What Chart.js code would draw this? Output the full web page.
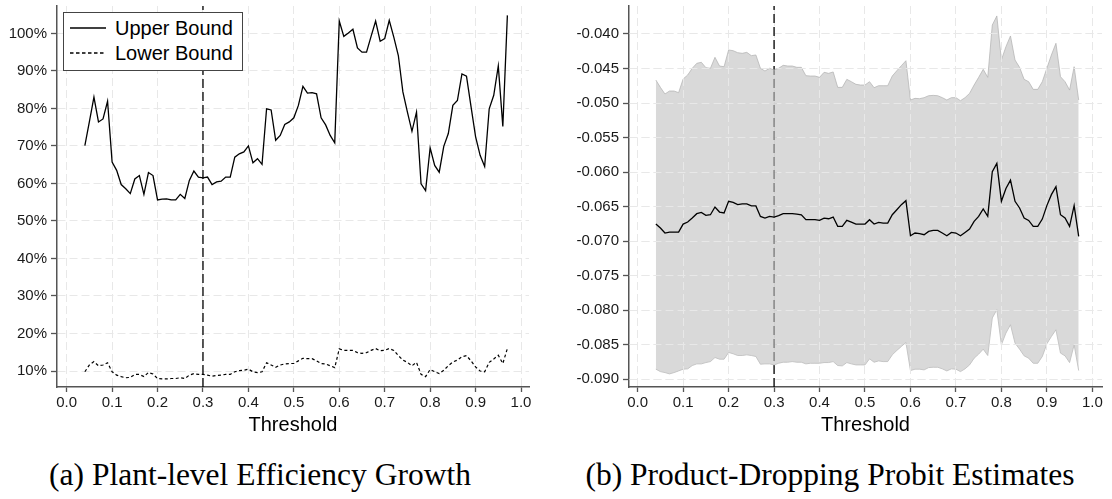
<!DOCTYPE html>
<html lang="en">
<head>
<meta charset="UTF-8" />
<title>Threshold robustness</title>
<script src="https://cdn.jsdelivr.net/npm/chart.js@4"></script>
<style>
  body { margin: 0; background: #fff; }
  .wrap { position: relative; width: 1112px; height: 499px; overflow: hidden; }
  canvas { position: absolute; top: 0; }
  #chartA { left: 0; }
  #chartB { left: 556px; }
  .legend { position: absolute; left: 63px; top: 12px; width: 180px; height: 59px; box-sizing: border-box;
            border: 1.5px solid #444; background: #fff; font: 20px 'Liberation Sans', Arial, sans-serif; color: #000; }
  .legend svg { position: absolute; left: 6px; }
  .legend span { position: absolute; left: 51px; white-space: nowrap; line-height: 24px; }
  .caption { position: absolute; top: 459px; font: 31.5px/1 'Liberation Serif', 'Times New Roman', serif;
             white-space: nowrap; transform: translateX(-50%); color: #000; }
</style>
</head>
<body>
<div class="wrap">
  <canvas id="chartA" width="556" height="440"></canvas>
  <canvas id="chartB" width="556" height="440"></canvas>
  <div class="legend">
    <svg width="36" height="4" style="top:13px"><line x1="0" y1="2" x2="36" y2="2" stroke="#000" stroke-width="1.4"/></svg>
    <span style="top:3px">Upper Bound</span>
    <svg width="36" height="4" style="top:38px"><line x1="0" y1="2" x2="36" y2="2" stroke="#000" stroke-width="1.3" stroke-dasharray="3.5 2.5"/></svg>
    <span style="top:28px">Lower Bound</span>
  </div>
  <div class="caption" style="left:260px">(a) Plant-level Efficiency Growth</div>
  <div class="caption" style="left:830px">(b) Product-Dropping Probit Estimates</div>
</div>

<script>
  // thresholds on the x axis
  const thresholds = [0.04, 0.05, 0.06, 0.07, 0.08, 0.09, 0.10, 0.11, 0.12, 0.13,
    0.14, 0.15, 0.16, 0.17, 0.18, 0.19, 0.20, 0.21, 0.22, 0.23,
    0.24, 0.25, 0.26, 0.27, 0.28, 0.29, 0.30, 0.31, 0.32, 0.33,
    0.34, 0.35, 0.36, 0.37, 0.38, 0.39, 0.40, 0.41, 0.42, 0.43,
    0.44, 0.45, 0.46, 0.47, 0.48, 0.49, 0.50, 0.51, 0.52, 0.53,
    0.54, 0.55, 0.56, 0.57, 0.58, 0.59, 0.60, 0.61, 0.62, 0.63,
    0.64, 0.65, 0.66, 0.67, 0.68, 0.69, 0.70, 0.71, 0.72, 0.73,
    0.74, 0.75, 0.76, 0.77, 0.78, 0.79, 0.80, 0.81, 0.82, 0.83,
    0.84, 0.85, 0.86, 0.87, 0.88, 0.89, 0.90, 0.91, 0.92, 0.93,
    0.94, 0.95, 0.96, 0.97];

  // (a) efficiency growth bounds, in %
  const upperBound = [70.1, 76.5, 83.0, 76.4, 77.2, 81.9, 65.7, 63.5, 59.7, 58.6,
    57.3, 61.2, 62.1, 57.1, 62.9, 62.1, 55.6, 55.8, 55.9, 55.6,
    55.6, 57.1, 56.0, 60.8, 63.3, 61.7, 61.5, 61.7, 59.7, 60.4,
    60.6, 61.7, 61.7, 67.0, 67.9, 68.4, 70.0, 65.5, 66.6, 65.1,
    79.9, 79.6, 71.5, 72.8, 75.7, 76.4, 77.5, 80.8, 85.9, 84.1,
    84.2, 83.9, 77.5, 75.6, 72.8, 70.8, 103.3, 99.2, 100.1, 101.1,
    96.1, 95.0, 95.0, 99.2, 103.3, 97.9, 98.6, 103.5, 99.0, 94.1,
    84.4, 79.0, 73.9, 79.0, 59.9, 58.1, 69.5, 64.8, 63.0, 69.9,
    73.3, 80.8, 82.1, 89.2, 88.6, 80.5, 72.5, 67.5, 64.5, 79.9,
    83.5, 91.3, 75.2, 104.8];
  const lowerBound = [9.8, 11.6, 12.5, 11.4, 11.6, 12.2, 9.8, 8.9, 8.5, 8.2,
    8.3, 9.1, 9.1, 8.5, 9.6, 9.2, 8.0, 7.9, 7.9, 8.0,
    8.0, 8.2, 8.0, 8.9, 9.3, 9.1, 9.1, 8.9, 8.6, 8.8,
    8.9, 9.1, 9.1, 9.8, 10.1, 10.2, 10.5, 9.8, 9.6, 9.8,
    12.2, 11.6, 11.0, 11.6, 11.9, 12.0, 12.0, 12.7, 13.4, 13.3,
    13.3, 12.7, 12.0, 11.9, 11.4, 10.9, 15.9, 15.5, 15.5, 15.5,
    14.9, 14.7, 14.9, 15.5, 16.0, 15.4, 15.5, 16.0, 15.5, 14.1,
    12.9, 12.3, 11.4, 12.3, 9.1, 8.5, 10.4, 9.8, 9.3, 10.2,
    11.4, 12.4, 12.9, 13.8, 14.1, 12.7, 11.1, 10.0, 9.8, 12.3,
    13.2, 14.2, 12.0, 16.0];

  // (b) probit estimate and confidence band
  const probitEst = [-0.06752, -0.06810, -0.06882, -0.06868, -0.06868, -0.06868, -0.06752, -0.06723, -0.06665, -0.06602,
    -0.06583, -0.06626, -0.06617, -0.06505, -0.06578, -0.06592, -0.06423, -0.06437, -0.06471, -0.06461,
    -0.06461, -0.06490, -0.06490, -0.06641, -0.06665, -0.06641, -0.06651, -0.06631, -0.06602, -0.06602,
    -0.06602, -0.06607, -0.06617, -0.06689, -0.06689, -0.06689, -0.06699, -0.06665, -0.06675, -0.06651,
    -0.06786, -0.06786, -0.06699, -0.06723, -0.06752, -0.06752, -0.06752, -0.06689, -0.06752, -0.06728,
    -0.06738, -0.06738, -0.06617, -0.06544, -0.06471, -0.06413, -0.06921, -0.06882, -0.06892, -0.06906,
    -0.06858, -0.06843, -0.06843, -0.06882, -0.06921, -0.06873, -0.06882, -0.06921, -0.06873, -0.06824,
    -0.06713, -0.06641, -0.06534, -0.06641, -0.05995, -0.05874, -0.06423, -0.06236, -0.06116, -0.06423,
    -0.06519, -0.06665, -0.06699, -0.06786, -0.06786, -0.06680, -0.06485, -0.06326, -0.06212, -0.06617,
    -0.06665, -0.06786, -0.06485, -0.06931];
  const probitHi = [-0.04667, -0.04773, -0.04869, -0.04826, -0.04826, -0.04850, -0.04652, -0.04594, -0.04497, -0.04425,
    -0.04410, -0.04488, -0.04497, -0.04338, -0.04464, -0.04474, -0.04232, -0.04242, -0.04271, -0.04280,
    -0.04266, -0.04314, -0.04304, -0.04497, -0.04536, -0.04497, -0.04522, -0.04497, -0.04454, -0.04464,
    -0.04464, -0.04483, -0.04483, -0.04604, -0.04609, -0.04609, -0.04628, -0.04555, -0.04570, -0.04550,
    -0.04773, -0.04773, -0.04657, -0.04691, -0.04729, -0.04739, -0.04739, -0.04691, -0.04778, -0.04749,
    -0.04749, -0.04749, -0.04609, -0.04532, -0.04459, -0.04387, -0.04956, -0.04932, -0.04937, -0.04922,
    -0.04894, -0.04889, -0.04894, -0.04922, -0.04956, -0.04922, -0.04922, -0.04966, -0.04922, -0.04860,
    -0.04739, -0.04628, -0.04512, -0.04628, -0.03870, -0.03739, -0.04377, -0.04184, -0.04029, -0.04377,
    -0.04483, -0.04657, -0.04691, -0.04802, -0.04802, -0.04691, -0.04497, -0.04304, -0.04135, -0.04619,
    -0.04691, -0.04812, -0.04474, -0.04956];
  const probitLo = [-0.08853, -0.08888, -0.08902, -0.08921, -0.08902, -0.08878, -0.08853, -0.08848, -0.08800, -0.08776,
    -0.08776, -0.08757, -0.08743, -0.08684, -0.08708, -0.08708, -0.08611, -0.08630, -0.08655, -0.08655,
    -0.08645, -0.08655, -0.08669, -0.08781, -0.08776, -0.08776, -0.08791, -0.08767, -0.08752, -0.08752,
    -0.08743, -0.08752, -0.08752, -0.08776, -0.08767, -0.08767, -0.08767, -0.08757, -0.08757, -0.08743,
    -0.08800, -0.08805, -0.08757, -0.08776, -0.08791, -0.08791, -0.08791, -0.08703, -0.08752, -0.08733,
    -0.08743, -0.08743, -0.08645, -0.08582, -0.08524, -0.08466, -0.08873, -0.08853, -0.08853, -0.08863,
    -0.08830, -0.08825, -0.08825, -0.08848, -0.08878, -0.08848, -0.08853, -0.08888, -0.08848, -0.08791,
    -0.08694, -0.08635, -0.08563, -0.08655, -0.08112, -0.07991, -0.08500, -0.08330, -0.08209, -0.08475,
    -0.08563, -0.08660, -0.08694, -0.08767, -0.08767, -0.08669, -0.08485, -0.08380, -0.08282, -0.08620,
    -0.08660, -0.08757, -0.08500, -0.08873];

  // tick labels
  const xTicks = [0, 0.1, 0.2, 0.3, 0.4, 0.5, 0.6, 0.7, 0.8, 0.9, 1.0];
  const yTicksA = [10, 20, 30, 40, 50, 60, 70, 80, 90, 100];
  const yTicksB = [-0.090, -0.085, -0.080, -0.075, -0.070, -0.065, -0.060, -0.055, -0.050, -0.045, -0.040];
  const cutoff = 0.3;

  Chart.defaults.font.family = "'Liberation Sans', Arial, sans-serif";
  Chart.defaults.color = '#1a1a1a';

  const pts = ys => thresholds.map((t, i) => ({ x: t, y: ys[i] }));

  function scale(o) {
    return {
      type: 'linear', min: o.min, max: o.max,
      afterBuildTicks: s => { s.ticks = o.ticks.map(v => ({ value: v })); },
      afterFit: s => {
        // keep the plot area where the reference has it
        s.paddingTop = s.paddingBottom = s.paddingLeft = s.paddingRight = 0;
        if (o.width) s.width = o.width;
        if (o.height) s.height = o.height;
      },
      grid: { color: '#e8e8e8', lineWidth: 1, tickColor: '#555', tickLength: o.tick, tickWidth: 1.3 },
      border: { color: '#555', width: 1.5, dash: [8, 4] },
      ticks: { font: { size: 15 }, padding: o.pad, autoSkip: false, maxRotation: 0, callback: o.fmt },
      title: o.title
        ? { display: true, text: o.title, color: '#000', font: { size: 20 }, padding: { top: 2, bottom: 3 } }
        : { display: false }
    };
  }

  function makeChart(id, datasets, yOpts, right, extra) {
    return new Chart(document.getElementById(id), {
      type: 'line',
      data: { datasets },
      options: {
        responsive: false, animation: false, devicePixelRatio: 1, events: [],
        layout: { padding: { top: 6, right: right, left: 0, bottom: 0 } },
        elements: { point: { radius: 0 }, line: { tension: 0 } },
        plugins: { legend: { display: false }, tooltip: { enabled: false } },
        scales: {
          x: scale({ min: xRange[id][0], max: xRange[id][1], ticks: xTicks, tick: 5, pad: 2,
                     fmt: v => v.toFixed(1), height: 53, title: 'Threshold' }),
          y: yOpts
        }
      },
      plugins: extra || []
    });
  }

  const xRange = { chartA: [-0.0213, 1.0176], chartB: [-0.0191, 1.0213] };
  const rangeA = [5.74, 107.3];
  const rangeB = [-0.09111, -0.03595];

  // (a)
  makeChart('chartA', [
    { data: pts(upperBound), borderColor: '#000', borderWidth: 1.3, order: 0 },
    { data: pts(lowerBound), borderColor: '#000', borderWidth: 1.2, borderDash: [3, 2.5], order: 1 },
    { data: [{ x: cutoff, y: rangeA[0] }, { x: cutoff, y: rangeA[1] }],
      borderColor: '#000', borderWidth: 1.3, borderDash: [9, 4], order: 2 }
  ], scale({ min: rangeA[0], max: rangeA[1], ticks: yTicksA, tick: 6, pad: 4, width: 57, fmt: v => v + '%' }), 27);

  // grid lines sit on top of the shaded band in (b), but leave the cutoff line alone
  const gridOnTop = {
    id: 'gridOnTop',
    afterDatasetDraw(chart, args) {
      if (args.index !== 1) return;
      const { ctx, chartArea: a } = chart;
      const px = chart.scales.x.getPixelForValue(cutoff);
      ctx.save();
      ctx.beginPath();
      ctx.rect(a.left, a.top, px - 3 - a.left, a.bottom - a.top);
      ctx.rect(px + 3, a.top, a.right - px - 3, a.bottom - a.top);
      ctx.clip();
      chart.scales.x.drawGrid(a);
      chart.scales.y.drawGrid(a);
      ctx.restore();
    }
  };

  // (b)
  makeChart('chartB', [
    { data: pts(probitEst), borderColor: '#000', borderWidth: 1.3, order: 0 },
    { data: pts(probitHi), borderColor: 'rgba(175,175,175,0.7)', borderWidth: 1,
      backgroundColor: 'rgba(194,194,194,0.62)', fill: '+1', order: 1 },
    { data: pts(probitLo), borderColor: 'rgba(175,175,175,0.7)', borderWidth: 1, order: 2 },
    { data: [{ x: cutoff, y: rangeB[0] }, { x: cutoff, y: rangeB[1] }],
      borderColor: '#000', borderWidth: 1.3, borderDash: [9, 4], order: 3 }
  ], scale({ min: rangeB[0], max: rangeB[1], ticks: yTicksB, tick: 6, pad: 4, width: 73, fmt: v => v.toFixed(3) }), 10, [gridOnTop]);
</script>
</body>
</html>
